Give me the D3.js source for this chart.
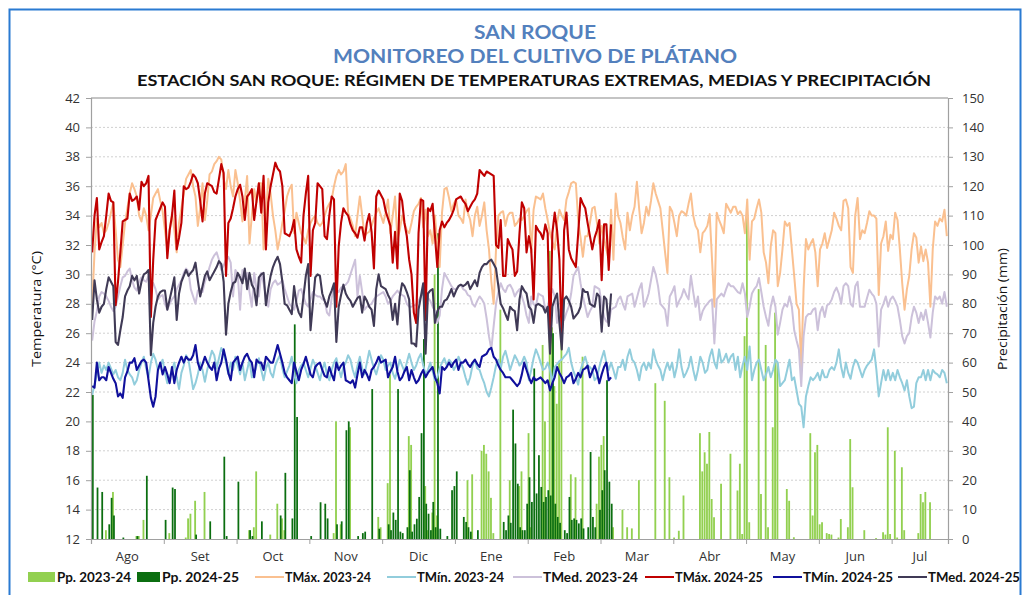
<!DOCTYPE html>
<html><head><meta charset="utf-8">
<script src="https://cdn.jsdelivr.net/npm/d3@7"></script>
<style>body{margin:0;background:#fff;} svg{display:block;}</style>
</head><body>
<svg id="c" width="1026" height="595"></svg>
<script>
// ---------------- DATA ----------------
const months = ["Ago","Set","Oct","Nov","Dic","Ene","Feb","Mar","Abr","May","Jun","Jul"];
const tempTicks = [12,14,16,18,20,22,24,26,28,30,32,34,36,38,40,42];
const ppTicks = [0,10,20,30,40,50,60,70,80,90,100,110,120,130,140,150];

// Daily values, day 0 = 1 Aug
const tmax2324 = [
28.0,31.5,33.8,33.2,33.5,32.8,33.0,33.5,34.2,34.9,
33.0,31.0,30.5,32.0,33.5,34.5,35.5,36.2,35.8,35.3,
34.0,33.6,34.5,34.0,33.0,34.0,35.2,35.5,35.8,35.0,
34.3,33.0,31.7,33.0,34.2,33.0,31.5,33.5,34.5,35.5,
36.5,36.8,37.1,36.0,35.3,33.3,34.5,36.2,33.7,35.0,
36.8,37.0,37.5,37.7,38.0,37.8,36.5,35.8,37.1,36.0,
35.3,37.1,36.2,35.0,33.6,35.0,36.7,32.1,34.0,35.8,
34.9,36.2,36.2,31.7,34.0,36.5,35.5,34.0,33.0,31.7,
32.5,33.5,34.3,35.3,35.8,36.1,32.8,34.2,33.5,32.8,
32.5,32.1,33.0,33.5,33.8,34.0,33.5,33.3,33.5,34.0,
34.5,34.8,35.1,36.0,36.7,37.1,36.8,37.0,37.5,34.2,
33.8,33.3,32.6,34.0,35.3,34.0,32.6,32.8,32.9,33.3,
33.8,34.2,34.5,34.0,33.5,34.2,35.1,32.8,34.0,35.3,
32.4,33.0,34.0,33.5,33.0,32.8,33.5,34.3,34.6,34.8,
35.2,33.2,34.4,32.6,33.0,32.1,34.0,32.0,30.5,34.2,
35.8,35.9,35.2,34.3,34.8,35.1,34.0,33.8,33.5,35.1,
34.2,33.7,32.6,34.0,34.6,33.3,34.0,34.9,33.0,31.7,
29.5,28.0,31.7,34.0,34.2,34.3,33.3,34.0,34.2,34.2,
33.3,33.5,33.8,33.7,34.0,34.3,34.5,31.5,34.4,35.3,
35.2,35.1,35.5,34.5,33.7,32.8,32.2,31.7,33.5,34.4,
34.0,33.7,35.1,35.6,36.2,36.3,36.2,33.7,32.5,31.2,
32.6,32.6,33.5,34.5,34.6,33.5,32.1,33.3,32.5,31.7,
31.0,34.4,31.0,35.5,34.0,33.5,32.5,31.7,34.2,33.0,
34.0,34.6,36.3,34.4,32.8,33.5,34.6,34.0,35.0,36.2,
35.5,35.0,34.5,33.0,31.5,30.1,34.6,34.3,33.5,32.6,
34.0,34.3,34.2,34.0,34.8,35.5,34.0,33.3,33.0,31.5,
32.8,33.0,33.3,34.1,31.0,27.8,34.2,33.7,33.3,32.8,
34.8,34.5,34.2,34.6,34.6,34.1,34.3,34.0,32.8,35.1,
31.0,33.6,33.8,34.5,35.1,34.2,31.5,30.8,29.4,31.9,
33.0,32.8,29.2,30.1,31.7,33.6,33.3,33.5,31.7,29.9,
28.0,27.6,23.7,29.0,32.4,31.7,32.1,32.4,31.5,29.2,
31.7,32.1,32.8,31.8,32.4,33.0,34.2,33.8,33.3,33.0,
35.0,35.1,34.5,30.5,30.1,34.0,35.2,32.4,33.0,32.8,
33.5,34.3,34.0,34.0,33.8,28.6,32.1,32.6,33.6,31.6,
32.7,32.4,34.2,33.7,31.7,29.4,27.6,29.0,29.9,31.7,
32.8,32.5,30.8,31.9,30.9,31.7,30.8,27.8,31.7,33.6,
33.3,33.8,33.6,34.4,32.6];

const tmin2324 = [
21.8,22.5,23.2,24.0,23.3,23.8,23.5,24.0,23.6,23.2,
23.5,23.0,22.8,23.3,24.2,23.5,23.2,23.0,22.5,22.8,
23.5,24.0,24.4,23.6,23.0,24.0,24.6,24.2,23.5,23.8,
24.2,23.3,22.6,23.0,23.5,24.0,23.0,22.2,23.3,23.8,
24.5,24.2,23.2,22.2,22.6,23.2,24.0,23.5,22.7,23.5,
24.2,24.8,24.5,23.6,24.3,25.0,24.6,24.0,23.2,24.0,
23.5,24.4,23.8,23.2,24.0,22.8,23.5,24.2,23.0,23.2,
23.8,24.3,23.5,22.8,23.6,24.0,23.3,23.0,23.8,24.2,
24.5,23.6,23.0,23.4,23.8,24.4,23.2,22.6,23.5,23.8,
24.0,23.5,23.0,23.6,24.2,23.8,23.3,22.8,23.5,24.0,
23.2,22.8,23.5,24.0,24.3,23.6,23.0,23.7,24.0,24.5,
24.2,23.5,23.0,23.8,24.4,23.6,23.2,24.0,24.8,24.2,
23.6,23.2,23.8,24.5,24.2,23.5,23.8,24.0,23.3,22.9,
23.5,24.2,23.8,23.4,24.0,24.6,24.0,23.5,23.8,24.3,
24.6,23.8,23.2,23.5,24.0,23.4,22.8,23.0,23.6,24.0,
24.3,23.8,24.2,24.0,23.5,23.8,24.4,24.0,23.6,23.0,
22.5,23.0,23.8,24.2,23.6,23.5,23.0,22.6,22.0,21.7,
22.3,23.0,23.8,24.2,23.6,24.4,24.8,24.2,23.5,24.0,
24.5,24.2,23.8,24.0,24.4,24.0,22.8,23.5,24.3,24.9,
24.5,24.0,23.5,23.6,24.0,23.5,22.6,23.7,23.9,24.1,
24.2,24.4,24.6,25.0,24.0,23.4,23.0,22.5,23.5,24.0,
24.4,23.8,23.7,23.5,22.8,23.0,23.7,24.3,24.8,24.0,
23.5,24.0,23.5,22.9,23.7,23.7,24.2,23.5,24.4,24.9,
24.2,24.0,23.5,22.8,23.7,24.0,23.5,24.0,23.6,24.9,
24.2,23.8,23.5,22.8,23.5,24.0,23.5,24.0,23.0,23.7,
24.9,23.7,23.0,23.3,23.7,24.4,23.5,22.8,23.5,24.4,
24.0,23.3,23.5,24.4,24.9,24.0,23.6,24.9,24.0,24.2,
24.6,24.0,24.4,24.6,23.5,24.4,23.0,23.8,24.4,23.5,
25.1,22.8,23.5,24.0,24.2,23.5,22.8,23.2,23.7,23.0,
23.5,24.2,24.0,22.4,22.6,22.8,23.5,24.2,22.8,23.0,
22.1,21.2,21.0,19.6,21.7,22.4,23.0,22.8,23.0,23.3,
22.8,23.5,23.0,23.0,23.5,23.7,23.5,24.0,24.9,23.7,
23.0,24.0,23.3,22.9,23.7,24.2,24.0,23.5,23.0,23.5,
23.8,24.0,24.2,24.9,23.5,21.7,22.6,23.5,22.8,23.5,
22.8,23.3,22.8,23.5,23.0,22.6,22.1,22.8,21.7,20.9,
21.0,22.6,23.0,23.0,23.5,22.8,23.5,22.8,23.5,23.3,
23.2,23.0,23.5,23.3,22.6];

const tmed2324 = [
25.5,26.8,27.5,28.5,28.8,28.7,28.5,28.2,27.8,27.5,
27.8,28.5,29.2,29.8,29.9,30.2,30.4,29.6,29.1,28.9,
29.5,29.8,29.6,29.5,29.9,29.5,29.4,29.0,28.3,28.5,
28.6,28.0,27.6,28.0,28.3,28.5,29.0,29.3,29.6,30.1,
30.4,30.2,29.0,28.5,28.0,28.9,29.0,28.8,29.5,29.9,
30.5,31.0,31.3,31.5,31.0,30.3,30.6,31.0,31.2,30.8,
28.5,30.3,30.0,27.6,30.3,29.7,30.1,28.8,27.8,30.1,
29.0,28.5,30.1,29.4,28.5,27.8,29.0,29.4,29.6,29.3,
29.4,29.6,29.0,28.5,28.0,27.8,27.6,28.2,28.9,29.0,
28.5,28.0,27.8,28.3,28.8,28.6,28.5,28.5,28.3,28.3,
27.4,27.2,28.4,29.1,29.0,28.8,29.1,29.2,29.3,29.5,
30.0,30.5,31.0,28.5,29.9,28.8,27.6,27.8,27.9,28.0,
28.3,28.5,28.6,28.7,28.8,28.5,28.0,28.2,28.5,28.7,
28.9,28.7,28.6,28.5,28.0,27.8,27.8,27.9,27.9,28.2,
28.5,28.7,28.9,28.4,28.2,27.8,27.5,26.7,27.2,29.0,
30.1,29.8,29.5,29.2,29.0,29.0,29.2,29.3,29.0,28.9,
28.6,28.5,28.0,27.8,28.2,28.5,28.3,28.0,27.0,25.8,
24.9,26.5,28.0,28.8,29.4,29.0,28.8,29.2,29.3,29.0,
28.5,28.8,29.0,28.5,28.0,27.2,26.7,28.5,28.0,27.8,
28.7,28.6,28.5,27.6,27.8,28.5,29.0,28.5,26.7,27.5,
27.8,26.9,27.4,27.8,28.7,29.9,30.2,30.5,29.4,28.5,
27.8,27.1,27.5,27.8,29.2,29.1,29.0,28.0,27.1,26.8,
26.7,27.6,27.7,27.8,28.3,28.5,28.0,27.6,28.5,28.6,
28.7,27.8,28.4,29.0,29.4,27.8,28.2,28.7,29.6,30.5,
30.0,29.2,28.0,27.8,27.6,26.5,28.5,28.8,29.2,27.8,
28.2,28.5,29.0,28.6,28.3,29.9,28.8,27.8,28.5,26.9,
27.5,27.8,28.0,28.2,28.3,25.3,28.3,28.5,28.7,28.5,
29.0,29.4,29.2,29.2,29.0,28.8,28.7,29.4,28.7,27.1,
27.8,28.7,29.0,29.2,29.75,28.8,27.8,27.1,26.5,27.8,
28.5,27.8,25.9,26.7,27.6,28.0,27.8,28.5,27.8,26.2,
25.5,24.9,22.4,25.8,27.1,27.3,27.3,27.6,27.7,26.2,
27.4,27.8,27.1,27.9,28.0,28.3,28.8,29.1,28.7,28.0,
29.2,29.4,29.2,28.0,27.8,29.2,29.5,27.8,27.8,27.8,
28.4,28.95,28.7,28.5,28.0,25.1,27.6,28.0,28.5,27.8,
28.3,28.5,28.2,27.8,26.9,25.8,25.3,25.8,26.0,27.1,
27.8,27.4,26.7,27.4,26.9,27.6,26.7,25.7,27.4,28.5,
28.3,28.5,28.0,28.8,27.8];

const tmax2425 = [
31.5,34.0,35.2,31.7,32.2,32.6,34.0,35.5,35.0,34.9,
27.9,29.5,31.5,33.6,33.7,33.8,35.5,35.0,35.1,35.3,
34.4,36.3,36.0,36.2,36.7,27.1,31.0,33.7,34.1,34.5,
34.9,34.6,31.1,33.0,34.0,35.7,31.7,32.5,33.5,36.0,
35.8,35.9,36.3,36.8,36.6,36.2,35.0,33.6,35.5,36.2,
36.1,36.0,35.6,35.5,36.5,37.5,36.9,29.9,33.5,33.8,
34.5,35.3,35.8,36.1,35.3,33.7,35.3,35.5,35.8,33.7,
35.0,36.2,34.2,36.7,31.7,34.9,36.0,36.8,37.6,37.2,
37.0,36.0,32.8,32.7,32.6,33.0,33.7,31.7,31.2,30.8,
34.0,35.5,36.7,29.9,33.0,33.5,36.2,36.0,35.8,32.6,
32.4,34.0,35.3,35.1,27.8,31.9,33.5,34.5,34.2,34.0,
33.4,33.0,32.8,32.5,33.2,33.2,32.3,33.5,34.1,32.9,
30.4,35.3,35.7,35.4,35.1,34.3,33.8,33.3,30.8,32.9,
30.4,35.5,35.0,33.5,32.6,31.0,30.0,27.4,26.7,32.8,
35.1,35.0,26.9,34.5,34.3,34.8,32.6,30.5,33.0,33.6,
33.2,33.5,33.7,34.0,34.4,35.1,35.2,35.3,35.0,34.8,
34.3,34.6,34.9,35.1,35.5,37.1,36.9,36.7,37.0,36.9,
36.8,36.7,32.0,31.8,33.7,29.9,29.9,32.4,32.0,31.7,
29.9,30.2,32.8,34.9,34.5,31.5,32.6,31.7,28.3,33.3,
33.0,32.8,32.4,33.4,32.8,25.3,32.8,34.2,33.0,31.0,
25.5,33.0,34.2,31.7,31.1,30.8,30.5,32.8,35.2,34.8,
34.5,33.5,32.6,31.7,32.5,33.0,33.7,29.6,33.4,33.4,
30.3,33.4];

const tmin2425 = [
22.4,22.3,24.0,22.8,23.0,23.0,22.8,23.7,23.3,22.9,
22.6,21.7,21.9,21.6,23.0,23.4,24.0,24.0,24.3,23.5,
23.8,24.1,24.2,24.0,22.8,21.6,21.0,21.7,23.5,24.0,
23.2,23.7,23.2,22.6,23.7,22.6,23.5,24.0,24.4,24.0,
24.4,24.2,24.2,24.5,25.2,24.0,23.5,23.9,24.4,24.0,
23.7,23.5,24.0,22.8,23.6,24.0,24.9,24.2,23.3,22.8,
24.0,24.2,24.4,23.5,24.0,24.4,24.6,24.2,24.0,23.0,
24.2,24.0,24.0,23.5,24.4,24.2,24.0,24.0,24.6,25.2,
24.6,24.0,23.3,23.0,22.8,22.6,24.0,23.4,22.8,23.5,
23.9,24.4,23.8,23.2,23.0,23.7,23.9,24.0,23.5,23.1,
23.0,23.7,23.2,22.8,24.0,23.5,23.8,24.0,22.8,22.7,
22.6,22.8,22.3,23.2,24.0,23.0,23.5,23.2,22.8,23.5,
23.7,24.0,24.4,24.0,24.1,24.2,23.0,23.4,23.7,24.4,
23.4,22.8,23.0,23.4,23.7,22.8,23.5,23.0,22.6,22.8,
23.2,23.5,23.0,23.3,23.5,23.7,23.0,22.6,21.9,23.7,
23.5,23.7,24.0,23.7,24.0,24.2,23.5,24.0,24.0,24.2,
23.9,23.7,24.0,24.2,23.9,23.7,24.4,24.5,24.6,24.9,
25.0,24.4,24.2,23.8,23.5,23.3,23.0,23.0,23.0,22.8,
22.6,22.4,22.6,23.2,24.0,23.5,23.0,22.6,23.0,22.8,
22.9,23.0,22.8,22.6,22.8,22.1,22.6,23.0,23.7,23.3,
23.0,22.6,23.0,23.1,23.3,22.6,22.9,23.3,23.0,23.5,
23.6,23.8,23.0,23.4,23.8,23.3,22.6,23.2,23.7,24.0,
22.8,23.0];

const tmed2425 = [
26.9,29.6,28.3,27.4,27.8,28.0,29.0,29.8,29.5,29.2,
25.4,25.2,26.2,27.1,28.5,28.9,29.2,29.9,29.6,29.9,
28.7,29.5,30.0,30.1,30.3,24.5,26.7,27.8,28.5,28.8,
28.9,28.9,27.6,28.3,29.0,29.8,26.9,28.7,29.5,29.9,
30.3,29.9,30.1,30.3,30.8,29.6,28.5,29.2,29.9,30.2,
29.6,29.9,30.2,30.5,30.9,30.7,29.5,25.9,28.0,28.8,
29.4,29.5,30.1,29.8,29.4,30.4,29.0,30.1,29.3,29.0,
27.9,29.8,30.0,30.1,27.9,29.0,29.9,30.5,30.9,31.2,
30.7,29.5,28.0,27.9,27.6,27.3,29.2,28.0,27.4,27.1,
28.5,29.9,30.7,26.2,28.0,29.8,30.0,29.9,28.7,28.2,
27.8,28.5,28.9,29.4,25.4,27.8,28.6,29.3,28.7,28.4,
28.2,27.8,28.1,28.4,28.5,27.4,28.5,28.2,27.8,27.6,
26.5,29.0,30.0,29.2,29.1,29.0,28.6,28.3,26.9,28.0,
26.6,28.5,29.4,29.2,28.8,28.3,25.3,25.3,25.1,27.6,
28.5,29.4,24.6,28.7,28.9,29.0,26.7,27.5,27.8,27.8,
28.2,28.3,28.6,29.0,28.5,28.9,29.2,29.3,29.2,29.3,
29.5,29.0,29.3,29.6,29.2,30.1,30.5,30.7,30.7,30.9,
31.0,30.7,30.4,29.2,28.0,27.7,27.3,26.9,27.8,27.6,
27.5,26.2,28.3,29.2,28.9,28.7,27.8,27.6,26.7,27.9,
28.0,27.9,27.8,27.4,27.8,24.6,27.8,28.3,28.7,26.7,
24.9,28.3,28.5,28.2,27.8,27.0,27.2,27.4,27.8,29.0,
28.8,28.8,28.0,27.9,27.8,28.7,28.5,26.1,28.5,28.3,
26.5,28.7];

const pp2324 = [
0,0,0,0,0,0,3,0,0,16,
0,0,0,0,0,0,0,0,0,1,
1,0,6.5,0,0,0,0,0,0,0,
0,0,0,2,0,0,0,0,0,0,
0.5,7,8.6,0,13,0,0,0,16,0,
0,0,0,0,0,0,0,0,0,0,
0,0,0,0,0,0,0,3,0,4,
23,0,0,0,0,0,1.5,0,0,12,
0,7,3,0,0,0,0,0,0,0,
0,0,0,0,0,0,0,0,0,0,
0,0,0,2,40,0,5,0,0,0,
38,0,0,0,0,0,0,0,0,0,
0,0,7.5,4,0,0,19,56,0,0,
0,0,0,0,0,35,32,0,0,0,
0,0,18,3,0,9,90,8,0,0,
0,0,0,0,0,0,0,0,0,0,
20,0,22,0,0,0,30,32,29,23,
14,2,0,0,78,0,0,0,20,0,
0,0,18,23,0,0,36,4,0,0,
0,0,66,40,0,98,72,52,46,60,
70,0,0,0,22,0,21,0,0,62,
0,0,0,0,0,12,28,32,35,0,
0,0,4,0,0,0,10,0,4,0,
3.6,0,0,20,0,0,0,0,0,0,
53,0,0,0,47,0,21,0,0.5,0,
2.8,0,14.8,0,0,0,0,0,0,36,
23,29.5,25.6,36.4,13.6,7.4,0,0,18.8,0,
0,0,29,0,0,16.5,25.6,1.7,69,110,
5.7,0,0,0,85,15.3,0,66,4,0,
38,77,60,0,0,0,17,13,0,0.6,
0,0,0,0,0,0,36,8,29.5,32,
5,5.7,0,2,1.7,1.5,0,0,0.5,6.8,
0,0,4,34,17.6,0,0,0,0,3,
0,0,0,0,0.3,0,0,2.3,1.5,38,
1.7,0,30,0.5,0,24.4,3,0,0,0,
0,0,2,15.3,12.5,16,0,12.5,0,0,
0,0,0,0,0];

const pp2425 = [
49,0,17.5,0,16,0,0,5,14,8,
0,0,0,0.5,0,0,0,0,0,1,
0,0,0,21.5,0,0,0,0,0,0,
0,6.5,0,0,17.5,17,0,0,0,0,
0,0,0,0,1.5,0,0,0,0,0,
6,0,0,0,0,0,28,1,0,0,
0,0,19.5,0,0,0,0,3,1,0,
0,0,6,0,0,0,0,0,0,0,
8,0,22.5,0,0,7,73,41.5,0,0,
0,0,0,1,0,0,0,12.5,0,12,
7,0,0,0,5,0,6,0,37,40,
0,0,0,1,0,2,2.5,0,0,51,
0,0,3.5,0,0,0,5,3,9,6.5,
51,2.5,2,0,4,23.4,2.5,5,6.9,14.3,
36,68,12,8.6,3,12.6,4,104,3.5,0,
0,1,0,16.6,18,23,0,0,7.5,5.8,
4,2.5,0,0,3,0,0,0,0,0,
0,0,0,0,0,5.8,3,8,5.5,44,
32.5,18.8,4,3,3,12,21,12.6,58,15.5,
28.5,17.7,12.6,14.3,16.6,14.8,70,12,7.5,5.5,
0,3,2,14.3,6.5,7,6.5,5.3,7,3.6,
0,4,29.6,7.5,4,0,9.9,16.6,23.4,54,
19.5,12];

const legendItems = [
  {label:"Pp. 2023-24", type:"bar", color:"#92d050"},
  {label:"Pp. 2024-25", type:"bar", color:"#0b6e10"},
  {label:"TMáx. 2023-24", type:"line", color:"#fac090"},
  {label:"TMín. 2023-24", type:"line", color:"#92cddc"},
  {label:"TMed. 2023-24", type:"line", color:"#ccc1da"},
  {label:"TMáx. 2024-25", type:"line", color:"#c00000"},
  {label:"TMín. 2024-25", type:"line", color:"#10109c"},
  {label:"TMed. 2024-25", type:"line", color:"#403a56"}
];

// ---------------- CHART ----------------
const svg = d3.select("#c");
const L = 91, R = 948, T = 98, B = 539;
const nDays = 365;
const x = d3.scaleLinear().domain([0, nDays]).range([L, R]);
const yT = d3.scaleLinear().domain([12, 42]).range([B, T]);
const yP = d3.scaleLinear().domain([0, 150]).range([B, T]);

svg.append("rect").attr("width",1026).attr("height",595).attr("fill","#fff");
// outer blue frame
svg.append("rect").attr("x",9.5).attr("y",9.5).attr("width",1011).attr("height",600)
  .attr("fill","none").attr("stroke","#2a7ad2").attr("stroke-width",2);

// titles
const titleFont = "Lato, 'Open Sans', sans-serif";
svg.append("text").attr("x",535).attr("y",39).attr("text-anchor","middle")
  .attr("font-family",titleFont).attr("font-weight","bold").attr("font-size",18)
  .attr("fill","#5380bd").attr("textLength",122).attr("lengthAdjust","spacingAndGlyphs").text("SAN ROQUE");
svg.append("text").attr("x",535).attr("y",63).attr("text-anchor","middle")
  .attr("font-family",titleFont).attr("font-weight","bold").attr("font-size",18)
  .attr("fill","#5380bd").attr("textLength",404).attr("lengthAdjust","spacingAndGlyphs").text("MONITOREO DEL CULTIVO DE PLÁTANO");
svg.append("text").attr("x",534).attr("y",86).attr("text-anchor","middle")
  .attr("font-family",titleFont).attr("font-weight","bold").attr("font-size",16)
  .attr("fill","#111").attr("textLength",794).attr("lengthAdjust","spacingAndGlyphs")
  .text("ESTACIÓN SAN ROQUE: RÉGIMEN DE TEMPERATURAS EXTREMAS, MEDIAS Y PRECIPITACIÓN");

// gridlines
const g = svg.append("g");
g.selectAll("line.grid").data(tempTicks.filter(v => v > 12 && v < 42)).join("line")
  .attr("x1",L).attr("x2",R).attr("y1",d=>yT(d)).attr("y2",d=>yT(d))
  .attr("stroke","#d0d0d0").attr("stroke-width",1).attr("stroke-dasharray","2,2");
g.append("line").attr("x1",L).attr("x2",R).attr("y1",yT(42)).attr("y2",yT(42))
  .attr("stroke","#b0b0b0").attr("stroke-width",1.5);

// bars
const bw = (x(1) - x(0));
g.append("g").selectAll("rect").data(pp2324).join("rect")
  .attr("x",(d,i)=>x(i) - 0.1).attr("width",bw*0.78)
  .attr("y",d=>yP(d)).attr("height",d=>B - yP(d)).attr("fill","#92d050");
g.append("g").selectAll("rect").data(pp2425).join("rect")
  .attr("x",(d,i)=>x(i) + bw*0.4).attr("width",bw*0.75)
  .attr("y",d=>yP(d)).attr("height",d=>B - yP(d)).attr("fill","#0b6e10");

// lines
const line = d3.line().x((d,i)=>x(i+0.5)).y(d=>yT(d)).curve(d3.curveLinear);
const series = [
  [tmax2324,"#fac090",2],
  [tmin2324,"#92cddc",2],
  [tmed2324,"#ccc1da",2],
  [tmax2425,"#c00000",2.1],
  [tmin2425,"#10109c",2.1],
  [tmed2425,"#403a56",2.1]
];
series.forEach(([data,color,w]) => {
  g.append("path").datum(data).attr("d",line).attr("fill","none")
    .attr("stroke",color).attr("stroke-width",w).attr("stroke-linejoin","round");
});

// axes
const axisFont = "'Open Sans', 'DejaVu Sans', sans-serif";
const axL = svg.append("g").attr("transform",`translate(${L},0)`)
  .call(d3.axisLeft(yT).tickValues(tempTicks).tickSize(5).tickPadding(6).tickFormat(d3.format("d")));
const axR = svg.append("g").attr("transform",`translate(${R},0)`)
  .call(d3.axisRight(yP).tickValues(ppTicks).tickSize(5).tickPadding(9).tickFormat(d3.format("d")));
const axB = svg.append("g").attr("transform",`translate(0,${B})`)
  .call(d3.axisBottom(x).tickValues(d3.range(0, nDays, 31)).tickSize(5).tickFormat(""));
[axL,axR,axB].forEach(a => {
  a.select(".domain").attr("stroke","#a0a0a0").attr("stroke-width",1.2);
  a.selectAll(".tick line").attr("stroke","#a0a0a0");
  a.selectAll("text").attr("font-family",axisFont).attr("font-size",13).attr("fill","#333");
});

// month labels
const monthPos = months.map((m,i) => i < 11 ? i*31 + 15.5 : (11*31 + nDays)/2);
svg.append("g").selectAll("text").data(months).join("text")
  .attr("x",(d,i)=>x(monthPos[i])).attr("y",561).attr("text-anchor","middle")
  .attr("font-family",axisFont).attr("font-size",13).attr("fill","#333").text(d=>d);

// axis titles
svg.append("text").attr("transform","translate(41,309) rotate(-90)").attr("text-anchor","middle")
  .attr("font-family",axisFont).attr("font-size",13.5).attr("fill","#111")
  .attr("textLength",116).attr("lengthAdjust","spacingAndGlyphs").text("Temperatura (°C)");
svg.append("text").attr("transform","translate(1007,309) rotate(-90)").attr("text-anchor","middle")
  .attr("font-family",axisFont).attr("font-size",13.5).attr("fill","#111")
  .attr("textLength",122).attr("lengthAdjust","spacingAndGlyphs").text("Precipitación (mm)");

// legend
const legX = [28,137,255,387,513,645,773,898];
const legTextW = [74,77,86,87,95,88,90,92];
const lg = svg.append("g");
legendItems.forEach((it,i) => {
  const x0 = legX[i];
  let tx;
  if (it.type === "bar") {
    lg.append("rect").attr("x",x0).attr("y",572).attr("width",i===0?27:23).attr("height",10).attr("fill",it.color);
    tx = x0 + (i===0?29:25);
  } else {
    lg.append("line").attr("x1",x0).attr("x2",x0+29).attr("y1",577).attr("y2",577)
      .attr("stroke",it.color).attr("stroke-width",2);
    tx = x0 + 30;
  }
  lg.append("text").attr("x",tx).attr("y",581.5)
    .attr("font-family",titleFont).attr("font-weight","bold").attr("font-size",12.5).attr("fill","#111")
    .attr("textLength",legTextW[i]).attr("lengthAdjust","spacingAndGlyphs").text(it.label);
});
</script>
</body></html>
